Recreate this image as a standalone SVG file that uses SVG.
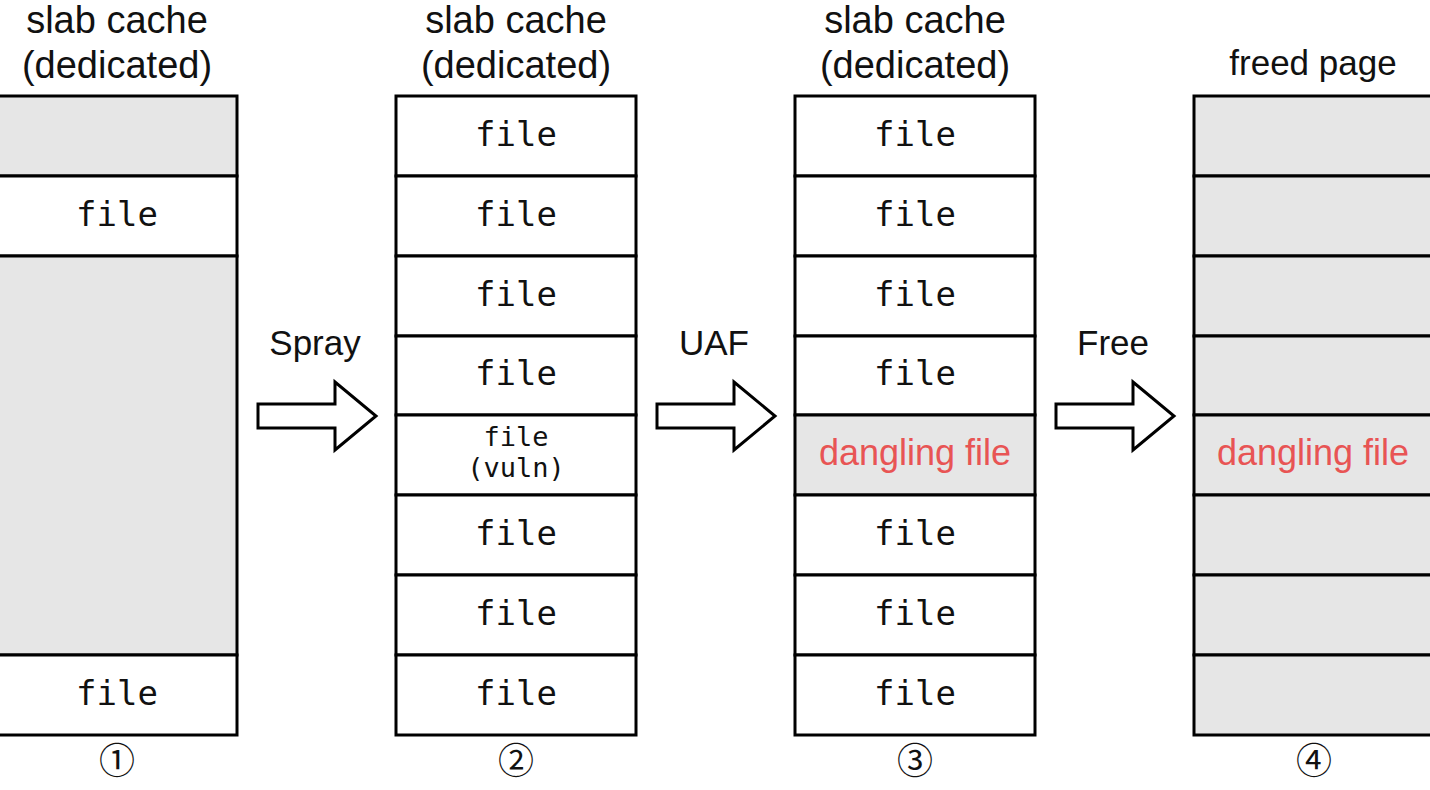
<svg xmlns="http://www.w3.org/2000/svg" width="1430" height="790" viewBox="0 0 1430 790">
<style>
.cell{stroke:#000;stroke-width:3}
.g{fill:#e6e6e6}
.w{fill:#fff}
.mono{font-family:"DejaVu Sans Mono","Liberation Mono",monospace;font-size:34px;fill:#111;text-anchor:middle}
.monos{font-family:"DejaVu Sans Mono","Liberation Mono",monospace;font-size:27px;fill:#111;text-anchor:middle}
.title{font-family:"Liberation Sans",Arial,sans-serif;font-size:38px;fill:#111;text-anchor:middle}
.title2{font-family:"Liberation Sans",Arial,sans-serif;font-size:35px;fill:#111;text-anchor:middle}
.lbl{font-family:"Liberation Sans",Arial,sans-serif;font-size:35px;fill:#111;text-anchor:middle}
.red{font-family:"Liberation Sans",Arial,sans-serif;font-size:36px;fill:#e85454;text-anchor:middle}
.num{font-family:"Noto Sans CJK JP","DejaVu Sans",sans-serif;font-size:36px;fill:#111;text-anchor:middle}
.arrow{fill:#fff;stroke:#000;stroke-width:3;stroke-linejoin:miter}
</style>
<rect width="1430" height="790" fill="#fff"/>
<g id="col1">
<text class="title" x="117" y="33">slab cache</text>
<text class="title" x="117" y="78">(dedicated)</text>
<rect class="cell g" x="-3" y="96" width="240" height="80"/>
<rect class="cell w" x="-3" y="176" width="240" height="80"/>
<rect class="cell g" x="-3" y="256" width="240" height="399"/>
<rect class="cell w" x="-3" y="655" width="240" height="80"/>
<text class="mono" x="117" y="226">file</text>
<text class="mono" x="117" y="705">file</text>
<text class="num" x="117" y="774">①</text>
</g>
<g id="col2">
<text class="title" x="516" y="33">slab cache</text>
<text class="title" x="516" y="78">(dedicated)</text>
<rect class="cell w" x="396" y="96" width="240" height="80"/>
<rect class="cell w" x="396" y="176" width="240" height="80"/>
<rect class="cell w" x="396" y="256" width="240" height="80"/>
<rect class="cell w" x="396" y="336" width="240" height="79"/>
<rect class="cell w" x="396" y="415" width="240" height="80"/>
<rect class="cell w" x="396" y="495" width="240" height="80"/>
<rect class="cell w" x="396" y="575" width="240" height="80"/>
<rect class="cell w" x="396" y="655" width="240" height="80"/>
<text class="mono" x="516" y="146">file</text>
<text class="mono" x="516" y="226">file</text>
<text class="mono" x="516" y="306">file</text>
<text class="mono" x="516" y="385">file</text>
<text class="monos" x="516" y="446">file</text>
<text class="monos" x="516" y="477">(vuln)</text>
<text class="mono" x="516" y="545">file</text>
<text class="mono" x="516" y="625">file</text>
<text class="mono" x="516" y="705">file</text>
<text class="num" x="516" y="774">②</text>
</g>
<g id="col3">
<text class="title" x="915" y="33">slab cache</text>
<text class="title" x="915" y="78">(dedicated)</text>
<rect class="cell w" x="795" y="96" width="240" height="80"/>
<rect class="cell w" x="795" y="176" width="240" height="80"/>
<rect class="cell w" x="795" y="256" width="240" height="80"/>
<rect class="cell w" x="795" y="336" width="240" height="79"/>
<rect class="cell g" x="795" y="415" width="240" height="80"/>
<rect class="cell w" x="795" y="495" width="240" height="80"/>
<rect class="cell w" x="795" y="575" width="240" height="80"/>
<rect class="cell w" x="795" y="655" width="240" height="80"/>
<text class="mono" x="915" y="146">file</text>
<text class="mono" x="915" y="226">file</text>
<text class="mono" x="915" y="306">file</text>
<text class="mono" x="915" y="385">file</text>
<text class="red" x="915" y="465">dangling file</text>
<text class="mono" x="915" y="545">file</text>
<text class="mono" x="915" y="625">file</text>
<text class="mono" x="915" y="705">file</text>
<text class="num" x="915" y="774">③</text>
</g>
<g id="col4">
<text class="title2" x="1313" y="75">freed page</text>
<rect class="cell g" x="1194" y="96" width="240" height="80"/>
<rect class="cell g" x="1194" y="176" width="240" height="80"/>
<rect class="cell g" x="1194" y="256" width="240" height="80"/>
<rect class="cell g" x="1194" y="336" width="240" height="79"/>
<rect class="cell g" x="1194" y="415" width="240" height="80"/>
<rect class="cell g" x="1194" y="495" width="240" height="80"/>
<rect class="cell g" x="1194" y="575" width="240" height="80"/>
<rect class="cell g" x="1194" y="655" width="240" height="80"/>
<text class="red" x="1313" y="465">dangling file</text>
<text class="num" x="1314" y="774">④</text>
</g>
<g id="connectors">
<polygon class="arrow" points="258,404 335,404 335,382 376,416 335,450 335,428 258,428"/>
<polygon class="arrow" points="657,404 734,404 734,382 775,416 734,450 734,428 657,428"/>
<polygon class="arrow" points="1056,404 1133,404 1133,382 1174,416 1133,450 1133,428 1056,428"/>
<text class="lbl" x="315" y="355">Spray</text>
<text class="lbl" x="714" y="355">UAF</text>
<text class="lbl" x="1113" y="355">Free</text>
</g>
</svg>
